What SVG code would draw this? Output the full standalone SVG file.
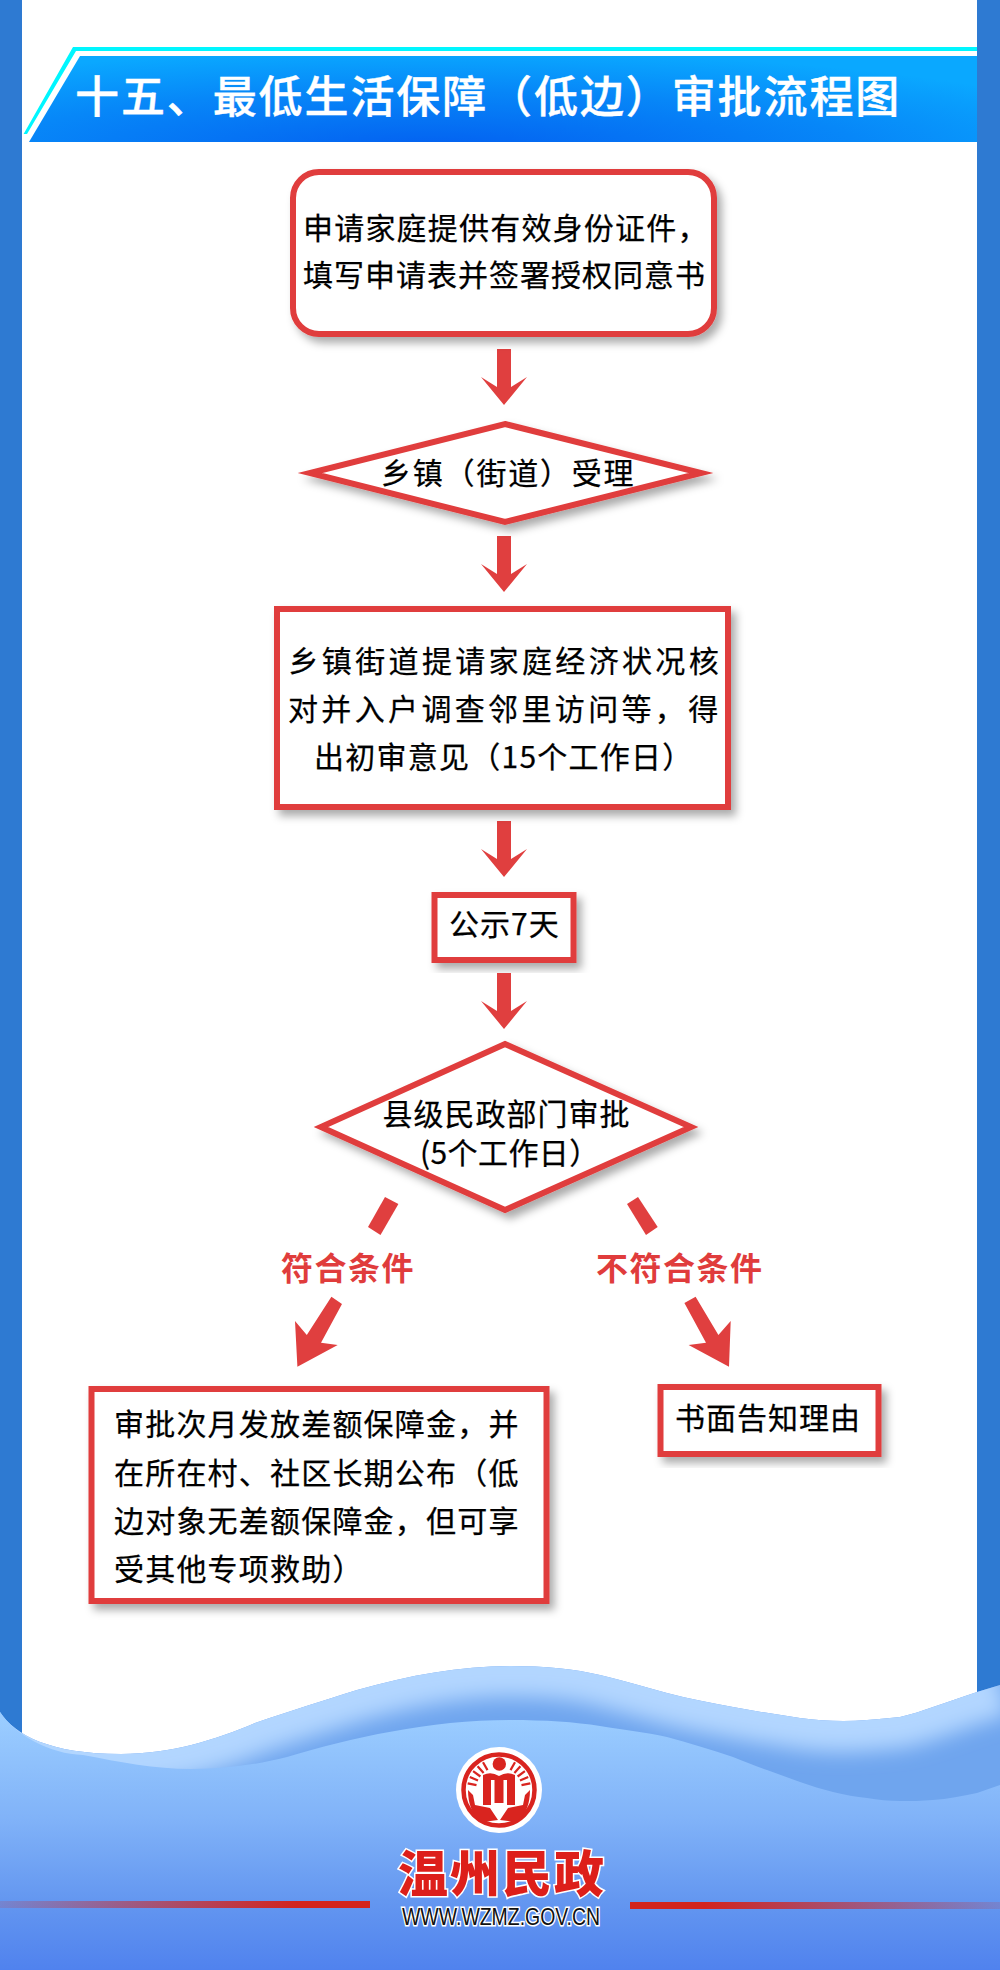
<svg xmlns="http://www.w3.org/2000/svg" width="1000" height="1970" viewBox="0 0 1000 1970">
<style>
.t{font-family:"Noto Sans CJK SC","Noto Sans",sans-serif;font-size:30px;fill:#000;stroke:#000;stroke-width:.25px;letter-spacing:1px}
.n{fill:#fff;stroke:#e03c3c;stroke-width:6;stroke-miterlimit:12;filter:url(#sh)}
.c{fill:#e03f3f}
.l{font-family:"Noto Sans CJK SC",sans-serif;font-size:32px;font-weight:700;fill:#e03c3c;letter-spacing:1.5px}
.lg{fill:#d9241f}
</style>
<defs>
<filter id="sh" x="-10%" y="-10%" width="125%" height="130%"><feDropShadow dx="5" dy="6" stdDeviation="4" flood-color="#000" flood-opacity=".33"/></filter>
<filter id="bl" x="-10%" y="-50%" width="120%" height="200%"><feGaussianBlur stdDeviation="10"/></filter>
<radialGradient id="hd" gradientUnits="userSpaceOnUse" cx="0" cy="0" r="1" gradientTransform="translate(430 150) scale(720 100)"><stop offset="0" stop-color="#035ff0"/><stop offset=".6" stop-color="#0787f8"/><stop offset="1" stop-color="#0aa8ff"/></radialGradient>
<linearGradient id="bd" x1="0" y1="1720" x2="0" y2="1970" gradientUnits="userSpaceOnUse"><stop offset="0" stop-color="#9accff"/><stop offset=".4" stop-color="#80b2f8"/><stop offset=".72" stop-color="#6497f0"/><stop offset="1" stop-color="#5082ee"/></linearGradient>
<linearGradient id="rl"><stop offset="0" stop-color="#d2241f" stop-opacity=".15"/><stop offset=".8" stop-color="#d2241f"/></linearGradient>
<linearGradient id="rr"><stop offset=".2" stop-color="#d2241f"/><stop offset="1" stop-color="#d2241f" stop-opacity=".15"/></linearGradient>
<clipPath id="bc"><path d="M0,1712C15,1735 50,1754 121,1754C170,1754 215,1740 255,1723C290,1711 325,1700 357,1690C410,1675 460,1666 510,1666C545,1666 575,1669 600,1675C625,1681 645,1687 667,1693C690,1699 712,1703 733,1707C755,1711 778,1715 800,1718C822,1721 845,1722 867,1720C880,1719 890,1718 900,1717C912,1714 922,1711 933,1707C948,1702 962,1697 977,1692L1000,1685L1000,1970L0,1970Z"/></clipPath>
</defs>
<rect width="1000" height="1970" fill="#fff"/>
<g id="frame">
<rect x="0" y="0" width="22" height="1760" fill="#2e7ad2"/>
<rect x="977" y="0" width="23" height="1720" fill="#2e7ad2"/>
</g>
<g id="wave">
<path d="M0,1712C15,1735 50,1754 121,1754C170,1754 215,1740 255,1723C290,1711 325,1700 357,1690C410,1675 460,1666 510,1666C545,1666 575,1669 600,1675C625,1681 645,1687 667,1693C690,1699 712,1703 733,1707C755,1711 778,1715 800,1718C822,1721 845,1722 867,1720C880,1719 890,1718 900,1717C912,1714 922,1711 933,1707C948,1702 962,1697 977,1692L1000,1685L1000,1970L0,1970Z" fill="#6fa5ee"/>
<g clip-path="url(#bc)"><path d="M0,1712C15,1735 50,1754 121,1754C170,1754 215,1740 255,1723C290,1711 325,1700 357,1690C410,1675 460,1666 510,1666C545,1666 575,1669 600,1675C625,1681 645,1687 667,1693C690,1699 712,1703 733,1707C755,1711 778,1715 800,1718C822,1721 845,1722 867,1720C880,1719 890,1718 900,1717C912,1714 922,1711 933,1707C948,1702 962,1697 977,1692L1000,1685" fill="none" stroke="#b2d6ff" stroke-width="62" filter="url(#bl)"/></g>
<path d="M0,1712C15,1735 50,1754 83,1755C120,1762 155,1769 191,1769C225,1769 255,1765 287,1757C350,1738 430,1720 510,1720C545,1720 575,1722 600,1726C625,1730 645,1732 667,1737C690,1743 712,1750 733,1757C745,1762 756,1766 767,1770C778,1774 789,1778 800,1782C811,1786 822,1789 833,1792C845,1795 856,1797 867,1798C878,1800 889,1801 900,1801C911,1801 922,1801 933,1800C948,1799 962,1796 977,1793L1000,1785L1000,1970L0,1970Z" fill="url(#bd)"/>
<rect x="0" y="1901" width="370" height="7" fill="url(#rl)"/>
<rect x="630" y="1902" width="370" height="7" fill="url(#rr)"/>
</g>
<g id="header">
<path d="M23.6,134L73,47H977V51H76L27,134Z" fill="#00f6ff"/>
<path d="M80,56H977V142H29Z" fill="url(#hd)"/>
<text x="75" y="113" font-family="'Noto Sans CJK SC',sans-serif" font-size="44" font-weight="500" fill="#fff" stroke="#fff" stroke-width=".4" letter-spacing="1.9">十五、最低生活保障（低边）审批流程图</text>
</g>
<g id="connectors">
<path class="c" d="M497,349H511V387L527,377L504,405L481,377L497,387Z"/>
<path class="c" d="M497,536H511V574L527,564L504,592L481,564L497,574Z"/>
<path class="c" d="M497,821H511V859L527,849L504,877L481,849L497,859Z"/>
<path class="c" d="M497,973H511V1011L527,1001L504,1029L481,1001L497,1011Z"/>
<path class="c" d="M385,1197L398.4,1204L380.5,1235L368,1227Z"/>
<path class="c" d="M331.4,1296.7L342,1304L321,1342.7L337.7,1345L297.4,1366.7L295,1321L306.8,1335Z"/>
<path class="c" d="M638,1197L627,1204L646,1235L657.7,1227Z"/>
<path class="c" d="M695.6,1296.7L684.4,1303L706,1342.7L688.6,1345L729,1366.7L730.7,1321L718.4,1335Z"/>
<text class="l" x="281" y="1280">符合条件</text>
<text class="l" x="596" y="1280">不符合条件</text>
</g>
<g id="n1">
<rect class="n" x="293" y="172" width="421" height="162" rx="26"/>
<text class="t" x="303" y="239" style="letter-spacing:1.2px">申请家庭提供有效身份证件，</text>
<text class="t" x="303" y="286">填写申请表并签署授权同意书</text>
</g>
<g id="n2">
<path class="n" d="M505,424L701,473L505,522L310,473Z"/>
<text class="t" x="381" y="484" style="letter-spacing:1.8px">乡镇（街道）受理</text>
</g>
<g id="n3">
<rect class="n" x="277" y="609" width="451" height="198"/>
<text class="t" x="288.5" y="672" style="letter-spacing:3.35px">乡镇街道提请家庭经济状况核</text>
<text class="t" x="288" y="720" style="letter-spacing:3.35px">对并入户调查邻里访问等，得</text>
<text class="t" x="314" y="768" style="letter-spacing:1.25px">出初审意见（15个工作日）</text>
</g>
<g id="n4">
<rect class="n" x="434.5" y="895" width="139" height="65"/>
<text class="t" x="449" y="935">公示7天</text>
</g>
<g id="n5">
<path class="n" d="M505,1044L691,1127L505,1210L321,1127Z"/>
<text class="t" x="382.5" y="1125">县级民政部门审批</text>
<text class="t" x="420" y="1164" style="letter-spacing:.4px">(5个工作日）</text>
</g>
<g id="n6">
<rect class="n" x="91.5" y="1389" width="455" height="212"/>
<text class="t" x="114" y="1435" style="letter-spacing:1.2px">审批次月发放差额保障金，并</text>
<text class="t" x="114" y="1484" style="letter-spacing:1.2px">在所在村、社区长期公布（低</text>
<text class="t" x="114" y="1532" style="letter-spacing:1.2px">边对象无差额保障金，但可享</text>
<text class="t" x="114" y="1580" style="letter-spacing:1.2px">受其他专项救助）</text>
</g>
<g id="n7">
<rect class="n" x="660.5" y="1387" width="218" height="67"/>
<text class="t" x="675" y="1429">书面告知理由</text>
</g>
<g id="logo">
<circle cx="499" cy="1790" r="43" fill="#fff"/>
<circle cx="499" cy="1790" r="35.5" fill="none" stroke="#d9241f" stroke-width="4.5"/>
<circle class="lg" cx="499.3" cy="1764" r="6.7"/>
<path class="lg" d="M483,1775Q491,1771 499,1776Q507,1771 515,1775V1805H507V1780H503.5V1803H494.5V1780H491V1805H483Z"/>
<path class="lg" d="M468,1790L473,1795L475,1805L490,1808L498,1820L483,1822Q475,1818 471,1808Q468,1800 468,1790Z"/>
<path class="lg" d="M530,1790L525,1795L523,1805L508,1808L500,1820L515,1822Q523,1818 527,1808Q530,1800 530,1790Z"/>
<path d="M487.5,1770.1L483,1762.3M483.6,1772.9L477.6,1766.2M480.4,1776.5L473.1,1771.2M478,1780.6L469.8,1777M476.5,1785.2L467.7,1783.3M510.5,1770.1L515,1762.3M514.4,1772.9L520.4,1766.2M517.6,1776.5L524.9,1771.2M520,1780.6L528.2,1777M521.5,1785.2L530.3,1783.3" stroke="#d9241f" stroke-width="2.2" fill="none"/>
</g>
<g id="brand">
<text x="398" y="1892" font-family="'Noto Sans CJK SC',sans-serif" font-size="50" font-weight="900" fill="#dd1f1a" stroke="#fff" stroke-width="3" paint-order="stroke" letter-spacing="2">温州民政</text>
<text x="402" y="1925" font-family="'Liberation Sans',sans-serif" font-size="24" fill="#111" stroke="#fff" stroke-width="3" paint-order="stroke" textLength="198" lengthAdjust="spacingAndGlyphs">WWW.WZMZ.GOV.CN</text>
</g>
</svg>
